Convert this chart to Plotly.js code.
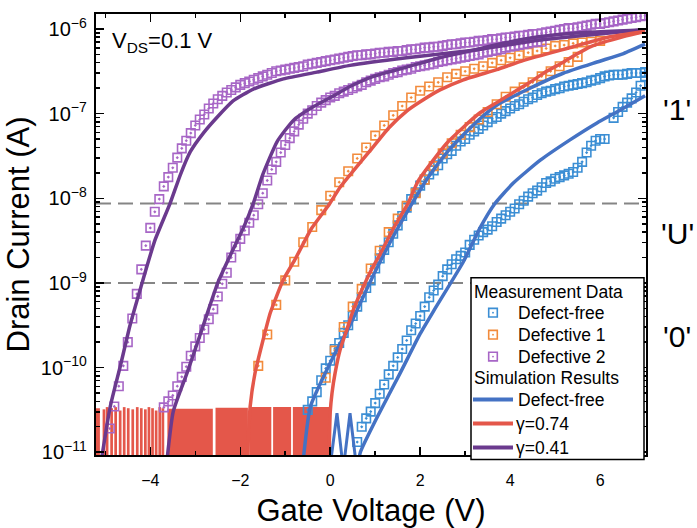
<!DOCTYPE html>
<html><head><meta charset="utf-8">
<script src="https://cdn.plot.ly/plotly-3.0.1.min.js"></script>
<style>html,body{margin:0;padding:0;background:#fff}#chart{width:697px;height:528px}</style>
</head><body><div id="chart"></div>
<script>
// ===== DATA (gate voltage V, log10 of drain current A) =====
// Measurement: Defect-free (two sweeps, second one with a step near 6 V)
const measDefectFree1 = [[-0.5,-10.50],[-0.4,-10.40],[-0.3,-10.29],[-0.2,-10.15],[-0.1,-10.01],[0.0,-9.92],[0.1,-9.78],[0.2,-9.71],[0.3,-9.59],[0.4,-9.50],[0.5,-9.39],[0.6,-9.28],[0.7,-9.17],[0.8,-9.06],[0.9,-8.97],[1.0,-8.83],[1.1,-8.71],[1.2,-8.61],[1.3,-8.52],[1.4,-8.42],[1.5,-8.32],[1.6,-8.21],[1.7,-8.11],[1.8,-8.01],[1.9,-7.93],[2.0,-7.85],[2.1,-7.78],[2.2,-7.72],[2.3,-7.67],[2.4,-7.61],[2.5,-7.53],[2.6,-7.48],[2.7,-7.44],[2.8,-7.38],[2.9,-7.33],[3.0,-7.30],[3.1,-7.25],[3.2,-7.21],[3.3,-7.18],[3.4,-7.14],[3.5,-7.10],[3.6,-7.06],[3.7,-7.04],[3.8,-7.00],[3.9,-6.97],[4.0,-6.94],[4.1,-6.91],[4.2,-6.89],[4.3,-6.86],[4.4,-6.83],[4.5,-6.81],[4.6,-6.78],[4.7,-6.76],[4.8,-6.74],[4.9,-6.73],[5.0,-6.71],[5.1,-6.70],[5.2,-6.68],[5.3,-6.67],[5.4,-6.66],[5.5,-6.65],[5.6,-6.64],[5.7,-6.63],[5.8,-6.61],[5.9,-6.60],[6.0,-6.58],[6.1,-6.56],[6.2,-6.55],[6.3,-6.54],[6.4,-6.54],[6.5,-6.54],[6.6,-6.53],[6.7,-6.52],[6.8,-6.52],[6.9,-6.52],[7.0,-6.51]];
const measDefectFree2 = [[0.6,-10.88],[0.7,-10.70],[0.8,-10.60],[0.9,-10.52],[1.0,-10.42],[1.1,-10.31],[1.2,-10.20],[1.3,-10.08],[1.4,-9.98],[1.5,-9.88],[1.6,-9.78],[1.7,-9.68],[1.8,-9.56],[1.9,-9.48],[2.0,-9.39],[2.1,-9.28],[2.2,-9.17],[2.3,-9.09],[2.4,-9.02],[2.5,-8.92],[2.6,-8.84],[2.7,-8.78],[2.8,-8.72],[2.9,-8.68],[3.0,-8.64],[3.1,-8.55],[3.2,-8.49],[3.3,-8.44],[3.4,-8.40],[3.5,-8.37],[3.6,-8.33],[3.7,-8.28],[3.8,-8.24],[3.9,-8.20],[4.0,-8.16],[4.1,-8.12],[4.2,-8.07],[4.3,-8.03],[4.4,-7.98],[4.5,-7.94],[4.6,-7.91],[4.7,-7.87],[4.8,-7.82],[4.9,-7.80],[5.0,-7.77],[5.1,-7.75],[5.2,-7.73],[5.3,-7.71],[5.4,-7.69],[5.5,-7.64],[5.6,-7.57],[5.7,-7.46],[5.8,-7.38],[5.9,-7.32],[6.0,-7.30],[6.1,-7.30]];
const measDefectFree3 = [[6.3,-7.05],[6.4,-6.98],[6.5,-6.92],[6.6,-6.87],[6.7,-6.82],[6.8,-6.75],[6.9,-6.67],[7.0,-6.56]];
// Measurement: Defective 1
const measDefective1a = [[-1.6,-9.98],[-1.4,-9.61],[-1.2,-9.26],[-1.0,-8.97],[-0.8,-8.75],[-0.6,-8.52],[-0.4,-8.34],[-0.2,-8.14],[0.0,-7.97],[0.2,-7.81],[0.4,-7.68],[0.6,-7.53],[0.8,-7.40],[1.0,-7.26],[1.2,-7.14],[1.4,-7.02],[1.6,-6.91],[1.8,-6.81],[2.0,-6.73],[2.2,-6.68],[2.4,-6.63],[2.6,-6.57],[2.8,-6.53],[3.0,-6.50],[3.2,-6.47],[3.4,-6.44],[3.6,-6.40],[3.8,-6.37],[4.0,-6.34],[4.2,-6.31],[4.4,-6.28],[4.6,-6.26],[4.8,-6.23],[5.0,-6.20],[5.2,-6.19],[5.4,-6.17],[5.6,-6.16],[5.8,-6.15],[6.0,-6.14]];
const measDefective1b = [[-0.1,-10.12],[0.1,-9.80],[0.3,-9.52],[0.5,-9.28],[0.7,-9.07],[0.9,-8.83],[1.1,-8.62],[1.3,-8.40],[1.5,-8.24],[1.7,-8.09],[1.9,-7.94],[2.1,-7.78],[2.3,-7.62],[2.5,-7.47],[2.7,-7.35],[2.9,-7.25],[3.1,-7.16],[3.3,-7.07],[3.5,-6.98],[3.7,-6.89],[3.9,-6.80],[4.1,-6.74],[4.3,-6.69],[4.5,-6.63],[4.7,-6.56],[4.9,-6.50],[5.1,-6.44],[5.3,-6.39],[5.5,-6.33]];
// Measurement: Defective 2
const measDefective2a = [[-4.9,-10.72],[-4.8,-10.46],[-4.7,-10.22],[-4.6,-9.98],[-4.5,-9.70],[-4.4,-9.42],[-4.3,-9.13],[-4.2,-8.84],[-4.1,-8.56],[-4.0,-8.35],[-3.9,-8.16],[-3.8,-8.01],[-3.7,-7.86],[-3.6,-7.75],[-3.5,-7.64],[-3.4,-7.52],[-3.3,-7.41],[-3.2,-7.32],[-3.1,-7.23],[-3.0,-7.14],[-2.9,-7.07],[-2.8,-7.01],[-2.7,-6.94],[-2.6,-6.88],[-2.5,-6.83],[-2.4,-6.79],[-2.3,-6.75],[-2.2,-6.72],[-2.1,-6.69],[-2.0,-6.66],[-1.9,-6.64],[-1.8,-6.62],[-1.7,-6.60],[-1.6,-6.58],[-1.5,-6.56],[-1.4,-6.54],[-1.3,-6.52],[-1.2,-6.50],[-1.1,-6.49],[-1.0,-6.48],[-0.9,-6.47],[-0.8,-6.46],[-0.7,-6.45],[-0.6,-6.44],[-0.5,-6.42],[-0.4,-6.41],[-0.3,-6.40],[-0.2,-6.39],[-0.1,-6.38],[0.0,-6.37],[0.1,-6.36],[0.2,-6.35],[0.3,-6.34],[0.4,-6.33],[0.5,-6.32],[0.6,-6.31],[0.7,-6.31],[0.8,-6.30],[0.9,-6.30],[1.0,-6.29],[1.1,-6.28],[1.2,-6.28],[1.3,-6.27],[1.4,-6.27],[1.5,-6.26],[1.6,-6.26],[1.7,-6.25],[1.8,-6.24],[1.9,-6.24],[2.0,-6.23],[2.1,-6.22],[2.2,-6.22],[2.3,-6.21],[2.4,-6.21],[2.5,-6.20],[2.6,-6.19],[2.7,-6.18],[2.8,-6.18],[2.9,-6.17],[3.0,-6.16],[3.1,-6.16],[3.2,-6.15],[3.3,-6.14],[3.4,-6.14],[3.5,-6.13],[3.6,-6.12],[3.7,-6.12],[3.8,-6.11],[3.9,-6.10],[4.0,-6.10],[4.1,-6.09],[4.2,-6.08],[4.3,-6.08],[4.4,-6.07],[4.5,-6.06],[4.6,-6.06],[4.7,-6.05],[4.8,-6.04],[4.9,-6.03],[5.0,-6.02],[5.1,-6.01],[5.2,-6.00],[5.3,-5.99],[5.4,-5.99],[5.5,-5.98],[5.6,-5.97],[5.7,-5.96],[5.8,-5.95],[5.9,-5.94],[6.0,-5.94],[6.1,-5.93],[6.2,-5.92],[6.3,-5.91],[6.4,-5.90],[6.5,-5.89],[6.6,-5.88],[6.7,-5.87],[6.8,-5.86],[6.9,-5.85],[7.0,-5.84]];
const measDefective2b = [[-3.7,-10.47],[-3.6,-10.40],[-3.5,-10.33],[-3.4,-10.22],[-3.3,-10.11],[-3.2,-9.99],[-3.1,-9.86],[-3.0,-9.75],[-2.9,-9.65],[-2.8,-9.55],[-2.7,-9.43],[-2.6,-9.31],[-2.5,-9.16],[-2.4,-9.01],[-2.3,-8.88],[-2.2,-8.70],[-2.1,-8.57],[-2.0,-8.48],[-1.9,-8.38],[-1.8,-8.29],[-1.7,-8.20],[-1.6,-8.07],[-1.5,-7.94],[-1.4,-7.79],[-1.3,-7.66],[-1.2,-7.57],[-1.1,-7.46],[-1.0,-7.37],[-0.9,-7.29],[-0.8,-7.21],[-0.7,-7.13],[-0.6,-7.06],[-0.5,-7.00],[-0.4,-6.96],[-0.3,-6.91],[-0.2,-6.87],[-0.1,-6.84],[0.0,-6.81],[0.1,-6.79],[0.2,-6.76],[0.3,-6.74],[0.4,-6.72],[0.5,-6.70],[0.6,-6.68],[0.7,-6.66],[0.8,-6.63],[0.9,-6.61],[1.0,-6.59],[1.1,-6.57],[1.2,-6.56],[1.3,-6.54],[1.4,-6.52],[1.5,-6.51],[1.6,-6.49],[1.7,-6.48],[1.8,-6.47],[1.9,-6.45],[2.0,-6.44],[2.1,-6.43],[2.2,-6.42],[2.3,-6.41],[2.4,-6.39],[2.5,-6.38],[2.6,-6.37],[2.7,-6.36],[2.8,-6.35],[2.9,-6.34],[3.0,-6.33],[3.1,-6.32],[3.2,-6.31],[3.3,-6.30],[3.4,-6.28],[3.5,-6.27],[3.6,-6.26],[3.7,-6.25],[3.8,-6.24],[3.9,-6.22],[4.0,-6.21],[4.1,-6.20],[4.2,-6.19],[4.3,-6.18],[4.4,-6.17],[4.5,-6.16],[4.6,-6.15],[4.7,-6.15]];

// Simulation results
const simDefectFreeA = [[0.60,-11.2],[0.67,-11.0],[1.04,-10.59],[1.56,-10.06],[2.0,-9.6],[2.3,-9.33],[2.96,-8.75],[3.33,-8.35],[3.65,-8.07],[4.07,-7.82],[4.67,-7.55],[5.33,-7.31],[5.93,-7.11],[6.44,-6.96],[7.0,-6.79]];
const simDefectFreeB = [[-0.62,-11.2],[-0.44,-10.46],[0.07,-9.87],[0.44,-9.5],[0.85,-9.03],[1.3,-8.55],[1.82,-8.06],[2.22,-7.72],[2.59,-7.46],[2.96,-7.25],[3.33,-7.06],[3.7,-6.9],[4.44,-6.7],[5.19,-6.52],[5.93,-6.39],[6.52,-6.29],[7.0,-6.18]];
const simDefectFreeNoise = [[-0.01,-11.2],[0.15,-10.54],[0.29,-11.2],[0.44,-10.54],[0.59,-11.2]];
const simGamma074a = [[-1.85,-11.2],[-1.78,-10.46],[-1.67,-10.06],[-1.51,-9.71],[-1.33,-9.35],[-1.04,-8.96],[-0.78,-8.72],[-0.42,-8.36],[-0.02,-8.07],[0.22,-7.87],[0.96,-7.39],[1.3,-7.17],[1.7,-6.97],[2.0,-6.86],[2.44,-6.72],[2.96,-6.6],[3.7,-6.48],[4.3,-6.37],[5.4,-6.21],[6.15,-6.1],[7.0,-6.03]];
const simGamma074b = [[-0.03,-11.2],[0.0,-10.53],[0.04,-10.3],[0.11,-10.06],[0.22,-9.79],[0.37,-9.55],[0.52,-9.31],[0.74,-9.04],[0.93,-8.83],[1.11,-8.66],[1.4,-8.36],[1.73,-8.06],[1.95,-7.8],[2.22,-7.6],[2.59,-7.35],[2.96,-7.16],[3.33,-6.99],[3.7,-6.87],[4.07,-6.75],[4.44,-6.63],[4.81,-6.5],[5.19,-6.39],[5.5,-6.29],[5.78,-6.21],[6.52,-6.09],[7.0,-6.03]];
const simGamma041a = [[-5.12,-11.2],[-4.89,-10.46],[-4.67,-9.99],[-4.45,-9.5],[-4.21,-9.05],[-3.9,-8.5],[-3.56,-8.06],[-3.33,-7.72],[-3.11,-7.45],[-2.82,-7.23],[-2.51,-7.04],[-2.16,-6.85],[-1.71,-6.71],[-1.04,-6.59],[-0.3,-6.51],[0.44,-6.43],[1.7,-6.34],[3.18,-6.25],[4.67,-6.13],[6.15,-6.05],[7.0,-6.01]];
const simGamma041b = [[-3.65,-11.2],[-3.49,-10.52],[-3.18,-10.06],[-2.89,-9.61],[-2.5,-9.0],[-2.2,-8.65],[-1.93,-8.35],[-1.71,-8.06],[-1.5,-7.72],[-1.18,-7.33],[-0.82,-7.08],[-0.38,-6.92],[0.07,-6.79],[0.44,-6.68],[0.96,-6.56],[1.7,-6.45],[2.44,-6.34],[3.18,-6.25],[3.93,-6.16],[4.67,-6.09],[5.4,-6.05],[7.0,-6.01]];
// Simulation noise floor (gamma=0.74): centre V, width V, top current A
const noiseCenter = [-5.17,-5.03,-4.96,-4.86,-4.77,-4.67,-4.58,-4.49,-4.39,-4.29,-4.20,-4.11,-4.03,-3.95,-3.87,-3.79,-3.72,-3.115,-2.19,-1.555,-1.07,-0.42];
const noiseWidth  = [0.10,0.06,0.06,0.06,0.06,0.06,0.06,0.06,0.06,0.06,0.06,0.06,0.06,0.06,0.06,0.06,0.06,1.01,0.72,0.49,0.40,0.82];
const noiseTop    = [3.3e-11,3.2e-11,3.4e-11,3.3e-11,3.4e-11,3.1e-11,3.4e-11,3.3e-11,3.2e-11,3.4e-11,3.3e-11,3.2e-11,3.4e-11,3.3e-11,3.1e-11,3.4e-11,3.3e-11,3.25e-11,3.35e-11,3.4e-11,3.4e-11,3.4e-11];
// Read-level thresholds
const thresholds = [8.7e-9, 1e-9];
const xRange = [-5.207, 7.02];
const yRangeLog = [-11.033, -5.823];

// ===== STYLE =====
const FONT = 'Liberation Sans, Arial, sans-serif';
const C = {mBlue:'#3b8ed4', mOrange:'#f28b3c', mPurple:'#a766c6',
           sBlue:'#4472c4', sRed:'#e4574a', sPurple:'#6b3a8e', dash:'#858585'};
const L = 96, R = 646, T = 14, B = 455.5, W = 697, H = 528;
const fx = px => (px - L) / (R - L);
const fy = py => (B - py) / (B - T);

const xs = a => a.map(p => p[0]);
const ys = a => a.map(p => Math.pow(10, p[1]));

const traces = [];
thresholds.forEach(t => traces.push({type:'scatter', mode:'lines', x:xRange, y:[t,t],
  line:{color:C.dash, width:2, dash:'15px,7px'}, showlegend:false, hoverinfo:'skip'}));
traces.push({type:'bar', x:noiseCenter, y:noiseTop, width:noiseWidth, base:1e-13,
  marker:{color:C.sRed, line:{width:0}}, showlegend:false, hoverinfo:'skip'});
function meas(d, color, name){
  traces.push({type:'scatter', mode:'markers', name:name, x:xs(d), y:ys(d), showlegend:false,
    marker:{symbol:'square-open-dot', size:8.5, color:color, line:{width:1.6, color:color}}});
}
meas(measDefectFree1, C.mBlue, 'Defect-free');
meas(measDefectFree2, C.mBlue, 'Defect-free');
meas(measDefectFree3, C.mBlue, 'Defect-free');
meas(measDefective1a, C.mOrange, 'Defective 1');
meas(measDefective1b, C.mOrange, 'Defective 1');
meas(measDefective2a, C.mPurple, 'Defective 2');
meas(measDefective2b, C.mPurple, 'Defective 2');
function sim(d, color, name, w){
  traces.push({type:'scatter', mode:'lines', name:name, x:xs(d), y:ys(d), showlegend:false,
    line:{color:color, width:w||3.5, shape:'spline', smoothing:0.5}});
}
sim(simDefectFreeA, C.sBlue, 'Defect-free');
sim(simDefectFreeB, C.sBlue, 'Defect-free');
traces.push({type:'scatter', mode:'lines', x:xs(simDefectFreeNoise), y:ys(simDefectFreeNoise),
  line:{color:C.sBlue, width:3}, showlegend:false});
sim(simGamma041a, C.sPurple, 'γ=0.41');
sim(simGamma041b, C.sPurple, 'γ=0.41');
sim(simGamma074a, C.sRed, 'γ=0.74');
sim(simGamma074b, C.sRed, 'γ=0.74');

// ===== manual legend (box, symbols, text) =====
const shapes = [{type:'rect', xref:'paper', yref:'paper', x0:fx(471), x1:fx(644), y0:fy(460), y1:fy(278),
  line:{color:'#000', width:1.5}, fillcolor:'#fff', layer:'above'}];
[[C.mBlue,313],[C.mOrange,335],[C.mPurple,357]].forEach(([c,py]) => {
  shapes.push({type:'rect', xref:'paper', yref:'paper', xsizemode:'pixel', ysizemode:'pixel',
    xanchor:fx(493), yanchor:fy(py), x0:-4.3, x1:4.3, y0:-4.3, y1:4.3, line:{color:c, width:1.6}, layer:'above'});
  shapes.push({type:'circle', xref:'paper', yref:'paper', xsizemode:'pixel', ysizemode:'pixel',
    xanchor:fx(493), yanchor:fy(py), x0:-0.9, x1:0.9, y0:-0.9, y1:0.9, fillcolor:c, line:{width:0}, layer:'above'});
});
[[C.sBlue,400],[C.sRed,424],[C.sPurple,448]].forEach(([c,py]) => {
  shapes.push({type:'line', xref:'paper', yref:'paper', x0:fx(473), x1:fx(513), y0:fy(py), y1:fy(py),
    line:{color:c, width:4}, layer:'above'});
});
function ann(text, px, py, size, anchor, extra){
  return Object.assign({text:text, xref:'paper', yref:'paper', x:fx(px), y:fy(py), showarrow:false,
    xanchor:anchor||'left', yanchor:'middle', font:{family:FONT, size:size, color:'#000'}}, extra||{});
}
const annotations = [
  ann('Measurement Data', 472, 292, 17.5),
  ann('Defect-free', 516, 313, 17.5),
  ann('Defective 1', 516, 335, 17.5),
  ann('Defective 2', 516, 357, 17.5),
  ann('Simulation Results', 472, 378, 17.5),
  ann('Defect-free', 516, 400, 17.5),
  ann('γ=0.74', 514, 424, 17.5),
  ann('γ=0.41', 514, 448, 17.5),
  ann("'1'", 677, 110, 30, 'center'),
  ann("'U'", 677, 234, 30, 'center'),
  ann("'0'", 677, 337, 30, 'center'),
  ann('V<sub>DS</sub>=0.1 V', 110, 42, 22)
];

const axisCommon = {showgrid:false, zeroline:false, showline:true, linecolor:'#000', linewidth:2,
  mirror:'ticks', ticks:'inside', ticklen:8, tickwidth:1.5, tickcolor:'#000',
  tickfont:{family:FONT, size:16, color:'#000'}};
const layout = {
  width:W, height:H, margin:{l:L, r:W-R, t:T, b:H-B, pad:0},
  paper_bgcolor:'#fff', plot_bgcolor:'#fff', showlegend:false, hovermode:false,
  xaxis:Object.assign({}, axisCommon, {range:xRange, tick0:0, dtick:2, ticklabelstandoff:10,
    title:{text:'Gate Voltage (V)', font:{family:FONT, size:31, color:'#000'}, standoff:14},
    minor:{dtick:1, ticks:'inside', ticklen:4, tickwidth:1.5, tickcolor:'#000'}}),
  yaxis:Object.assign({}, axisCommon, {type:'log', range:yRangeLog, dtick:1, exponentformat:'power',
    ticklabelstandoff:4,
    title:{text:'Drain Current (A)', font:{family:FONT, size:31, color:'#000'}, standoff:2},
    minor:{dtick:'D1', ticks:'inside', ticklen:4, tickwidth:1.5, tickcolor:'#000'}}),
  shapes:shapes, annotations:annotations
};
Plotly.newPlot('chart', traces, layout, {staticPlot:true, displayModeBar:false});
</script></body></html>
